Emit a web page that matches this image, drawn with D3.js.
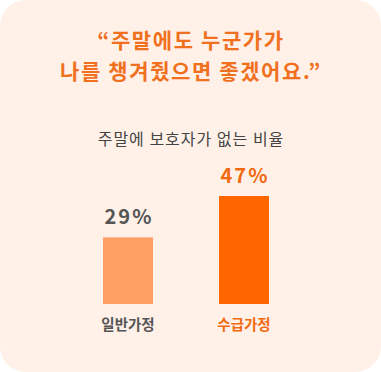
<!DOCTYPE html>
<html>
<head>
<meta charset="utf-8">
<script src="https://cdn.jsdelivr.net/npm/d3@7"></script>
<style>
  body { margin: 0; background: #fff; }
  svg { display: block; font-family: "Noto Sans CJK KR", "Noto Sans", sans-serif; }
</style>
</head>
<body>
<div id="chart"></div>
<script>
// data
var categories = ["일반가정", "수급가정"];
var values = [29, 47];
var titleLines = ["\u201C주말에도 누군가가", "나를 챙겨줬으면 좋겠어요.\u201D"];
var subtitle = "주말에 보호자가 없는 비율";

var width = 381, height = 372;
var barColors = ["#ffa062", "#ff6600"];
var labelColors = ["#555555", "#f26a10"];

var svg = d3.select("#chart")
    .append("svg")
    .attr("width", width)
    .attr("height", height);

// background card
svg.append("rect")
    .attr("width", width)
    .attr("height", height)
    .attr("rx", 26)
    .attr("fill", "#fff1e8");

// title
svg.append("g").selectAll("text")
    .data(titleLines)
    .join("text")
    .attr("x", 191)
    .attr("y", (d, i) => 48 + i * 31)
    .attr("text-anchor", "middle")
    .style("font-size", "21px")
    .style("font-weight", "bold")
    .style("letter-spacing", "1.6px")
    .style("fill", "#f0701e")
    .text(d => d);

svg.append("text")
    .attr("x", 191)
    .attr("y", 145)
    .attr("text-anchor", "middle")
    .style("font-size", "16px")
    .style("letter-spacing", "1px")
    .style("fill", "#444")
    .text(subtitle);

var x = d3.scaleBand()
    .domain(categories)
    .range([45, 327])
    .paddingInner(0.569)
    .paddingOuter(0.5);

var y = d3.scaleLinear()
    .domain([0, 47])
    .range([304, 196]);

svg.append("g").selectAll("rect")
    .data(values)
    .join("rect")
    .attr("x", (d, i) => x(categories[i]))
    .attr("y", d => y(d))
    .attr("width", x.bandwidth())
    .attr("height", d => y(0) - y(d))
    .attr("fill", (d, i) => barColors[i]);

// value labels
svg.append("g").selectAll("text")
    .data(values)
    .join("text")
    .attr("x", (d, i) => x(categories[i]) + x.bandwidth() / 2 + 1)
    .attr("y", d => y(d) - 13)
    .attr("text-anchor", "middle")
    .style("font-size", "20px")
    .style("font-weight", "bold")
    .style("letter-spacing", "2px")
    .style("fill", (d, i) => labelColors[i])
    .text(d => d + "%");

// category labels
svg.append("g").selectAll("text")
    .data(categories)
    .join("text")
    .attr("x", d => x(d) + x.bandwidth() / 2)
    .attr("y", 330)
    .attr("text-anchor", "middle")
    .style("font-size", "14.5px")
    .style("font-weight", "bold")
    .style("fill", (d, i) => labelColors[i])
    .text(d => d);
</script>
</body>
</html>
